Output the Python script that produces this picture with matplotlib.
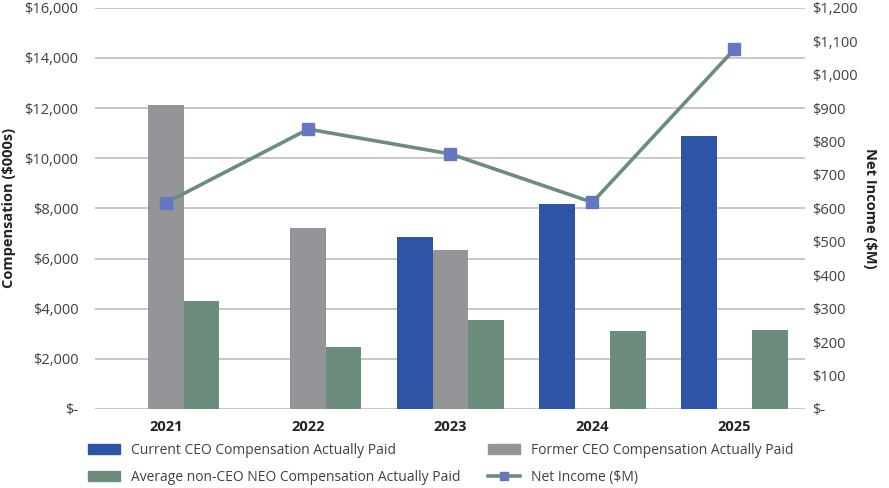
import numpy as np
from matplotlib import pyplot as plt
from matplotlib.patches import Patch
from matplotlib.lines import Line2D

plt.rcParams['font.family'] = ['Open Sans', 'DejaVu Sans']

years = ['2021', '2022', '2023', '2024', '2025']
current_ceo = [np.nan, np.nan, 6860, 8180, 10890]
former_ceo = [12130, 7220, 6330, np.nan, np.nan]
avg_neo = [4320, 2470, 3550, 3110, 3160]
net_income = [617, 837, 763, 618, 1076]

c_blue = '#2E55A5'
c_gray = '#939598'
c_green = '#6C8C7C'
c_marker = '#6577C0'
txt = '#404040'

def money(v):
    return '$-' if v == 0 else '${:,.0f}'.format(v)

fig = plt.figure(figsize=(8.89, 4.88), dpi=100)
ax = fig.add_axes([0.107, 0.162, 0.799, 0.822])
x = np.arange(len(years))
w = 0.25

ax.bar(x - w, current_ceo, w, color=c_blue, zorder=2)
ax.bar(x, former_ceo, w, color=c_gray, zorder=2)
ax.bar(x + w, avg_neo, w, color=c_green, zorder=2)

ax.set_xlim(-0.5, 4.5)
ax.set_ylim(0, 16000)
ax.set_yticks(np.arange(0, 16001, 2000))
ax.set_yticklabels([money(v) for v in np.arange(0, 16001, 2000)])
ax.set_xticks(x)
ax.set_xticklabels(years, fontweight='bold', fontsize=10.5, color='#222222')
ax.yaxis.grid(True, color='#BFBFBF', linewidth=1.2, zorder=0)
ax.set_axisbelow(True)
for s in ax.spines.values():
    s.set_visible(False)
ax.tick_params(axis='both', length=0, colors=txt, labelsize=10.5)
ax.tick_params(axis='x', pad=8, labelcolor='#222222')
ax.tick_params(axis='y', pad=12)
ax.set_ylabel('Compensation ($000s)', fontweight='bold', fontsize=10.5, color='#222222', labelpad=6)

ax2 = ax.twinx()
ax2.plot(x, net_income, color=c_green, linewidth=2.6, marker='s', markersize=9,
         markerfacecolor=c_marker, markeredgecolor=c_marker, zorder=3)
ax2.set_ylim(0, 1200)
ax2.set_yticks(np.arange(0, 1201, 100))
ax2.set_yticklabels([money(v) for v in np.arange(0, 1201, 100)])
for s in ax2.spines.values():
    s.set_visible(False)
ax2.tick_params(axis='y', length=0, colors=txt, labelsize=10.5, pad=5)
ax2.set_ylabel('Net Income ($M)', fontweight='bold', fontsize=10.5, color='#222222',
               rotation=270, labelpad=14)

handles = [
    Patch(color=c_blue, label='Current CEO Compensation Actually Paid'),
    Patch(color=c_green, label='Average non-CEO NEO Compensation Actually Paid'),
    Patch(color=c_gray, label='Former CEO Compensation Actually Paid'),
    Line2D([0], [0], color=c_green, linewidth=2.6, marker='s', markersize=6,
           markerfacecolor=c_marker, markeredgecolor=c_marker, label='Net Income ($M)'),
]
fig.legend(handles=handles, ncol=2, loc='lower left', bbox_to_anchor=(0.097, 0.004),
           borderaxespad=0.0, borderpad=0.1, frameon=False, fontsize=10, labelcolor=txt,
           handlelength=2.3, handleheight=0.8, columnspacing=2.0, labelspacing=0.85)

fig.savefig('out.png', dpi=100)
